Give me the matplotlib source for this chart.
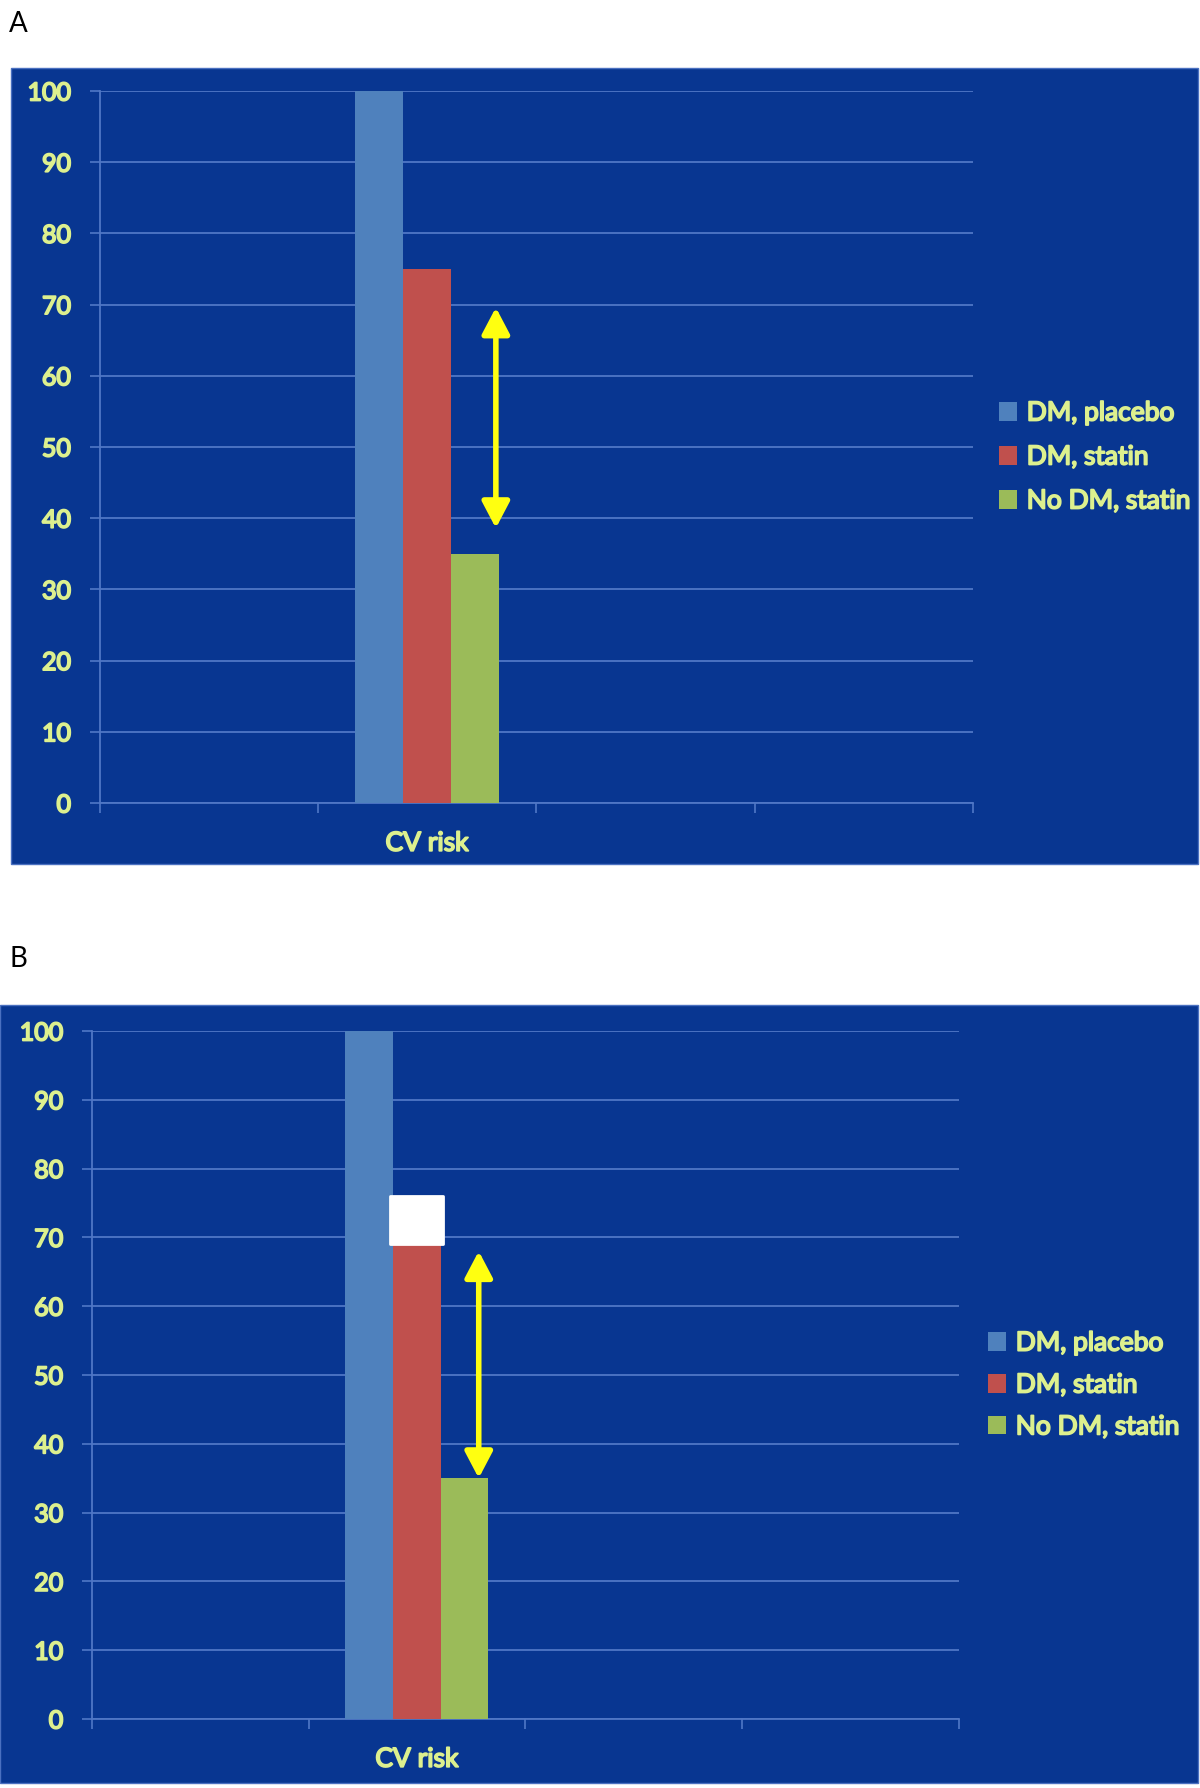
import matplotlib
matplotlib.use("Agg")
import matplotlib.pyplot as plt
import matplotlib.patheffects as pe
import numpy as np
from matplotlib.patches import Rectangle

# data
slots = ["", "CV risk", "", ""]          # category slots on the x axis
category = "CV risk"
series = ["DM, placebo", "DM, statin", "No DM, statin"]
values_a = [100, 75, 35]
values_b = [100, 75, 35]
arrow_a = (69.6, 38.6)                   # arrow tips, y values
arrow_b = (68, 35)
mask_b = (69, 76)                        # white box covering the top of red bar in B
yticks = list(range(0, 101, 10))

colors = ["#4F81BD", "#C0504D", "#9BBB59"]
BG = "#083691"
GRID = "#5077C6"
TXT = "#DDF08E"
YELLOW = "#FFFF10"
FONT = "Lato"
GLOW = [pe.withStroke(linewidth=1.3, foreground=TXT)]

W, H = 1200, 1788
fig = plt.figure(figsize=(W / 100, H / 100), dpi=100)
fig.patch.set_facecolor("white")


def fx(px):
    return px / W


def fy(py):
    return 1 - py / H


def draw_panel(letter, letter_xy, bg, axbox, values, arrow_x, arrow_y, legend_xy, leg_spacing, mask=None):
    # background slide
    x0, y0, x1, y1 = bg
    fig.add_artist(Rectangle((fx(x0), fy(y1)), fx(x1) - fx(x0), fy(y0) - fy(y1),
                             transform=fig.transFigure, facecolor=BG,
                             edgecolor="#4A70C0", lw=1, zorder=0))
    fig.text(fx(letter_xy[0]), fy(letter_xy[1]), letter, fontsize=20, family=FONT,
             color="black", va="baseline", ha="left")

    l, t, r, b = axbox
    ax = fig.add_axes([fx(l), fy(b), fx(r) - fx(l), fy(t) - fy(b)])
    ax.set_facecolor("none")

    idx = slots.index(category)
    width = 0.22
    offsets = (np.arange(len(series)) - 1) * width
    for i, name in enumerate(series):
        ax.bar(idx + offsets[i], values[i], width, color=colors[i], label=name, zorder=3)

    ax.set_xlim(-0.5, len(slots) - 0.5)
    ax.set_ylim(0, 100)
    ax.set_yticks(yticks)
    ax.set_yticklabels([str(v) for v in yticks], fontsize=18, family=FONT, color=TXT)
    ax.tick_params(axis="y", length=7.5, width=1.2, color=GRID, pad=13)
    ax.yaxis.grid(True, color=GRID, lw=1.3, zorder=1)
    ax.set_axisbelow(True)

    ax.set_xticks(np.arange(len(slots) + 1) - 0.5)
    ax.set_xticklabels([])
    ax.set_xticks(np.arange(len(slots)), minor=True)
    ax.set_xticklabels(slots, minor=True, fontsize=19, family=FONT, color=TXT)
    ax.tick_params(axis="x", which="major", length=7.5, width=1.2, color=GRID)
    ax.tick_params(axis="x", which="minor", length=0, pad=20)
    for lab in ax.get_yticklabels() + ax.get_xticklabels(minor=True):
        lab.set_path_effects(GLOW)

    for s in ["top", "right"]:
        ax.spines[s].set_visible(False)
    for s in ["left", "bottom"]:
        ax.spines[s].set_color(GRID)
        ax.spines[s].set_linewidth(1.3)

    ax.annotate("", xy=(arrow_x, arrow_y[1]), xytext=(arrow_x, arrow_y[0]),
                arrowprops=dict(arrowstyle="<|-|>,head_length=0.8,head_width=0.42",
                                color=YELLOW, lw=4, mutation_scale=20,
                                shrinkA=0, shrinkB=0), zorder=5)

    if mask is not None:
        ax.add_patch(Rectangle((idx - 0.125, mask[0]), 0.245, mask[1] - mask[0],
                               facecolor="white", edgecolor="white", lw=2,
                               joinstyle="round", zorder=4))

    leg = ax.legend(loc="center left", bbox_to_anchor=(fx(legend_xy[0]), fy(legend_xy[1])),
                    bbox_transform=fig.transFigure, frameon=False, borderpad=0,
                    borderaxespad=0, handlelength=0.7, handleheight=0.7,
                    handletextpad=0.35, labelspacing=leg_spacing,
                    prop={"family": FONT, "size": 19})
    for txt in leg.get_texts():
        txt.set_color(TXT)
        txt.set_path_effects(GLOW)
    return ax


draw_panel("A", (9, 32), (11, 68, 1198, 864), (99.5, 91, 973, 803), values_a,
           1.315, arrow_a, (999, 457), 0.72)
draw_panel("B", (9, 967), (0, 1005, 1198, 1783), (91.7, 1031, 959, 1719), values_b,
           1.285, arrow_b, (988, 1385), 0.64, mask=mask_b)

fig.savefig("out.png", dpi=100, facecolor="white")
